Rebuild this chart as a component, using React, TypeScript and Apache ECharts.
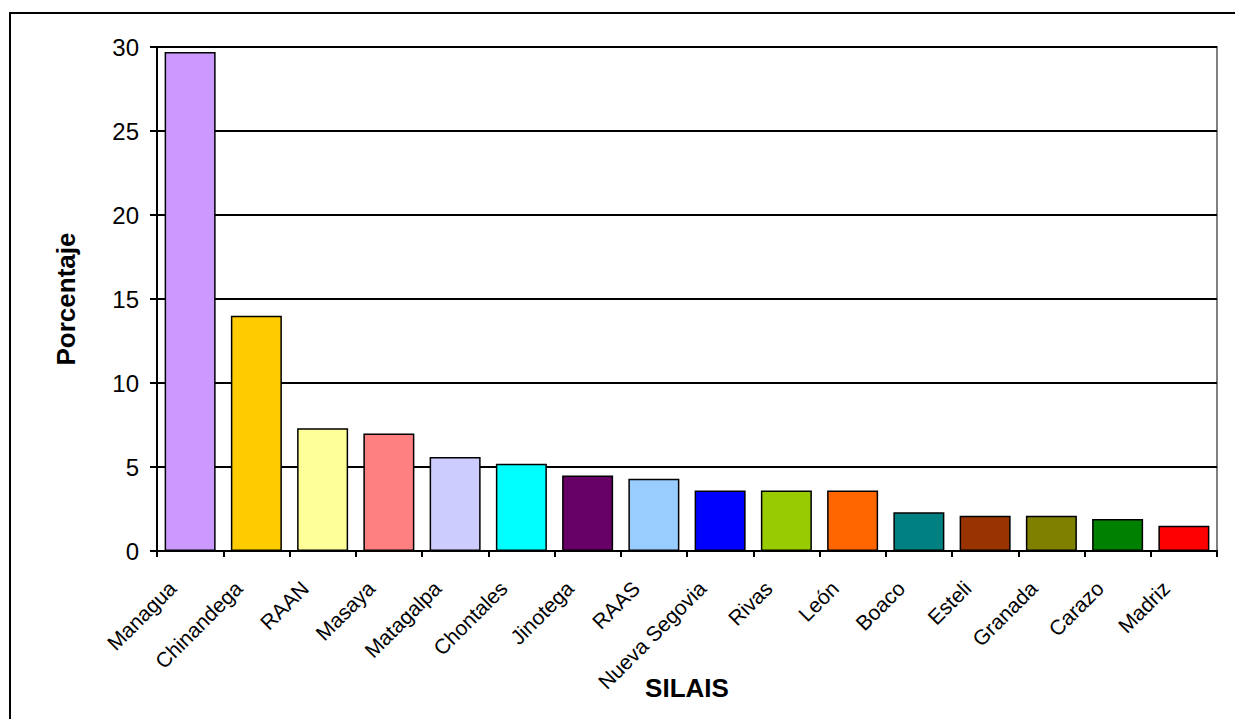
import React, { useEffect, useRef } from "react";
import * as echarts from "echarts";

// SILAIS (health districts) and their share, in percent
const categories = [
  "Managua", "Chinandega", "RAAN", "Masaya", "Matagalpa", "Chontales",
  "Jinotega", "RAAS", "Nueva Segovia", "Rivas", "León", "Boaco",
  "Esteli", "Granada", "Carazo", "Madriz",
];
const values = [29.7, 14.0, 7.3, 7.0, 5.6, 5.2, 4.5, 4.3, 3.6, 3.6, 3.6, 2.3, 2.1, 2.1, 1.9, 1.5];
const barColors = [
  "#CC99FF", "#FFCC00", "#FFFF99", "#FF8080", "#CCCCFF", "#00FFFF",
  "#660066", "#99CCFF", "#0000FF", "#99CC00", "#FF6600", "#008080",
  "#993300", "#808000", "#008000", "#FF0000",
];
const yTicks = [0, 5, 10, 15, 20, 25, 30];

const FONT = "'Liberation Sans', Arial, sans-serif";

export default function App() {
  const ref = useRef<HTMLDivElement>(null);

  useEffect(() => {
    document.body.style.margin = "0";
    if (!ref.current) return;
    const chart = echarts.init(ref.current, undefined, { renderer: "svg" });
    chart.setOption({
      animation: false,
      backgroundColor: "#ffffff",
      textStyle: { fontFamily: FONT },
      graphic: [
        {
          type: "rect",
          shape: { x: 10, y: 13, width: 1240, height: 720 },
          style: { fill: "none", stroke: "#000000", lineWidth: 2 },
          silent: true,
        },
      ],
      grid: {
        left: 157,
        top: 47,
        right: 18,
        bottom: 168,
        outerBoundsMode: "none",
        containLabel: false,
        show: true,
        borderColor: "#808080",
        borderWidth: 2,
        backgroundColor: "transparent",
      },
      xAxis: {
        type: "category",
        data: categories,
        name: "SILAIS",
        nameLocation: "middle",
        nameGap: 124,
        nameMoveOverlap: false,
        nameTextStyle: { fontFamily: FONT, fontSize: 26, fontWeight: "bold", color: "#000" },
        axisLine: { lineStyle: { color: "#000", width: 2 } },
        axisTick: { show: true, alignWithLabel: false, length: 6, lineStyle: { color: "#000", width: 2 } },
        axisLabel: {
          rotate: 45,
          interval: 0,
          margin: 16,
          padding: [0, 25, 0, 0],
          fontFamily: FONT,
          fontSize: 21,
          color: "#000",
        },
      },
      yAxis: {
        type: "value",
        min: 0,
        max: 30,
        interval: 5,
        name: "Porcentaje",
        nameLocation: "middle",
        nameGap: 78,
        nameMoveOverlap: false,
        nameTextStyle: { fontFamily: FONT, fontSize: 26, fontWeight: "bold", color: "#000" },
        axisLine: { show: true, lineStyle: { color: "#000", width: 2 } },
        axisTick: { show: true, length: 7, lineStyle: { color: "#000", width: 2 } },
        axisLabel: {
          margin: 18,
          fontFamily: FONT,
          fontSize: 24,
          color: "#000",
          formatter: (v: number) => (yTicks.includes(v) ? String(v) : ""),
        },
        splitLine: { show: true, lineStyle: { color: "#000", width: 2 } },
      },
      series: [
        {
          type: "bar",
          data: values.map((v, i) => ({ value: v, itemStyle: { color: barColors[i] } })),
          barCategoryGap: "23%",
          itemStyle: { borderColor: "#000", borderWidth: 1.5 },
        },
      ],
    });
    return () => chart.dispose();
  }, []);

  return <div ref={ref} style={{ width: 1235, height: 719 }} />;
}
